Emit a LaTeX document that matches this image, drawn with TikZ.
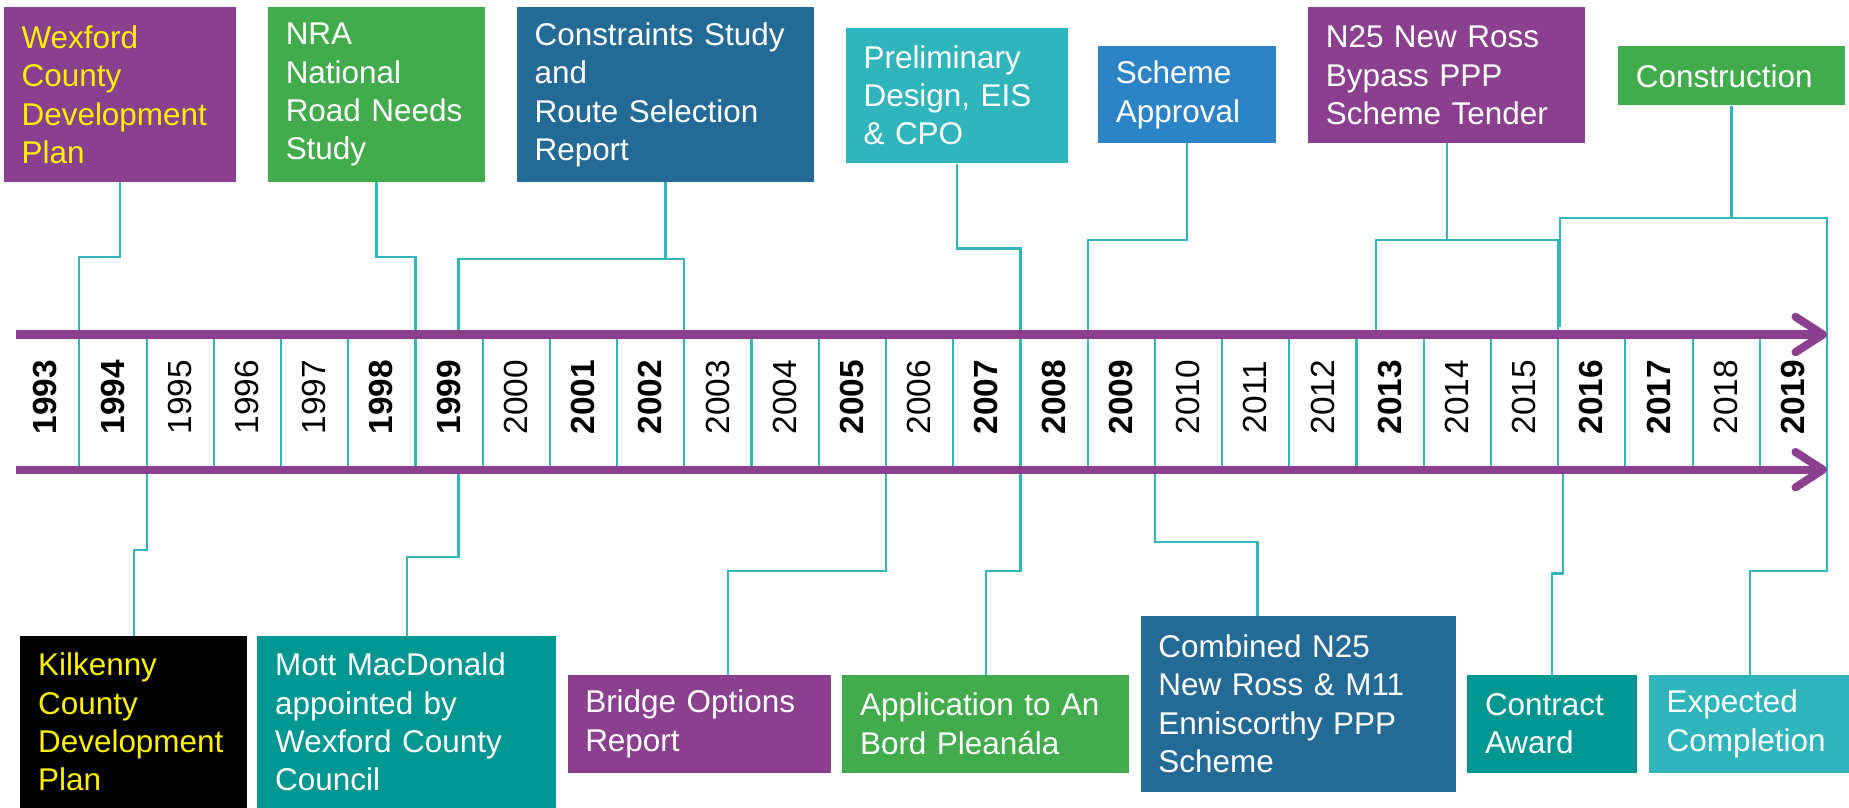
\documentclass[tikz,border=0pt]{standalone}
\usepackage{fontspec}
\setmainfont{Liberation Sans}
\usetikzlibrary{arrows.meta}

\definecolor{tlpurple}{RGB}{139,63,143}
\definecolor{tlgreen}{RGB}{66,172,77}
\definecolor{tlnavy}{RGB}{35,106,150}
\definecolor{tlaqua}{RGB}{49,181,188}
\definecolor{tlblue}{RGB}{44,132,198}
\definecolor{tlteal}{RGB}{0,150,145}
\definecolor{tlline}{RGB}{47,182,190}

\newcommand\tlfont{\fontsize{16}{19.5}\selectfont}

\tikzset{
  box/.style={anchor=north west, align=left, inner xsep=9pt, inner ysep=0pt,
    text=white, font=\tlfont},
  yearcell/.style={minimum width=34.2pt, minimum height=68.4pt, inner sep=0pt,
    font=\fontsize{17}{20}\selectfont},
  link/.style={draw=tlline, line width=1.1pt},
  axis/.style={draw=tlpurple, line width=4.1pt, -{Straight Barb[length=14pt,width=18pt,round]}}
}

\begin{document}
\begin{tikzpicture}[x=0.6pt,y=-0.6pt]
\useasboundingbox (0,0) rectangle (1568,685);

% years
\foreach \yr/\wt [count=\i from 0] in {1993/\bfseries,1994/\bfseries,1995/\mdseries,
  1996/\mdseries,1997/\mdseries,1998/\bfseries,1999/\bfseries,2000/\mdseries,
  2001/\bfseries,2002/\bfseries,2003/\mdseries,2004/\mdseries,2005/\bfseries,
  2006/\mdseries,2007/\bfseries,2008/\bfseries,2009/\bfseries,2010/\mdseries,
  2011/\mdseries,2012/\mdseries,2013/\bfseries,2014/\mdseries,2015/\mdseries,
  2016/\bfseries,2017/\bfseries,2018/\mdseries,2019/\bfseries}
  \node[yearcell] (y\yr) at ({38.5+57*\i},341) {\rotatebox{90}{\kern5pt\wt\yr}};
\foreach \yr in {1993,...,2019}
  \draw[link] (y\yr.north east) -- (y\yr.south east);

% top row
\node[box, fill=tlpurple, text=yellow, text width=100.2pt, minimum height=88.8pt] (wexford) at (3,6)
  {Wexford\\County\\Development\\Plan};
\node[box, fill=tlgreen, text width=92.4pt, minimum height=88.8pt] (nra) at (227,6)
  {NRA\\National\\Road Needs\\Study};
\node[box, fill=tlnavy, text width=133.2pt, minimum height=88.8pt] (constraints) at (438,6)
  {Constraints Study\\and\\Route Selection\\Report};
\node[box, fill=tlaqua, text width=94.8pt, minimum height=69pt] (prelim) at (717,23)
  {Preliminary\\Design, EIS\\\& CPO};
\node[box, fill=tlblue, text width=72.6pt, minimum height=49.2pt] (approval) at (931,39)
  {Scheme\\Approval};
\node[box, fill=tlpurple, text width=123pt, minimum height=69pt] (tender) at (1109,6)
  {N25 New Ross\\Bypass PPP\\Scheme Tender};
\node[box, fill=tlgreen, text width=97.2pt, minimum height=30pt] (construction) at (1372,39)
  {Construction};

% bottom row
\node[box, fill=black, text=yellow, text width=97.2pt, minimum height=87.6pt] (kilkenny) at (17,539)
  {Kilkenny\\County\\Development\\Plan};
\node[box, fill=tlteal, text width=133.8pt, minimum height=87.6pt] (mott) at (218,539)
  {Mott MacDonald\\appointed by\\Wexford County\\Council};
\node[box, fill=tlpurple, text width=115.8pt, minimum height=49.8pt] (bridge) at (481,572)
  {Bridge Options\\Report};
\node[box, fill=tlgreen, text width=127.8pt, minimum height=49.8pt] (application) at (714,572)
  {Application to An\\Bord Pleanála};
\node[box, fill=tlnavy, text width=142.2pt, minimum height=89.4pt] (combined) at (967,522)
  {Combined N25\\New Ross \& M11\\Enniscorthy PPP\\Scheme};
\node[box, fill=tlteal, text width=68.4pt, minimum height=49.8pt] (contract) at (1244,572)
  {Contract\\Award};
\node[box, fill=tlaqua, text width=85.2pt, minimum height=49.8pt] (expected) at (1398,572)
  {Expected\\Completion};

% links above
\draw[link] (wexford.south) -- ++(0,63) -| (y1993.north east);
\draw[link] (nra.south) -- ++(0,63) -| (y1998.north east);
\draw[link] (constraints.south) -- ++(0,65) coordinate (cjoin) -| ([xshift=5pt]y1999.north)
  (cjoin) -| (y2002.north east);
\draw[link] (prelim.south) -- ++(0,72) -| (y2007.north east);
\draw[link] (approval.south) -- ++(0,82) -| (y2008.north east);
\draw[link] (tender.south) -- ++(0,82) coordinate (tjoin) -| ([xshift=-6.9pt]y2013.north)
  (tjoin) -| (y2015.north east);
\draw[link] (construction.south) -- ++(0,95) coordinate (kjoin) -| ([xshift=1.5pt,yshift=4pt]y2016.north west)
  (kjoin) -| (y2019.north east);

% links below
\draw[link] (y1994.south east) -- ++(0,68) -| (kilkenny.north);
\draw[link] ([xshift=5pt]y1999.south) -- ++(0,74) -| (mott.north);
\draw[link] (y2005.south east) -- ++(0,86) -| ([xshift=14.7pt]bridge.north);
\draw[link] (y2007.south east) -- ++(0,86) -| (application.north);
\draw[link] (y2009.south east) -- ++(0,61) -| ([xshift=-20.7pt]combined.north);
\draw[link] ([xshift=3pt]y2016.south west) -- ++(0,88) -| (contract.north);
\draw[link] (y2019.south east) -- ++(0,86) -| (expected.north);

\draw[axis] ([xshift=2.4pt]y1993.north west) -- (y2019.north east);
\draw[axis] ([xshift=2.4pt]y1993.south west) -- (y2019.south east);
\end{tikzpicture}
\end{document}
